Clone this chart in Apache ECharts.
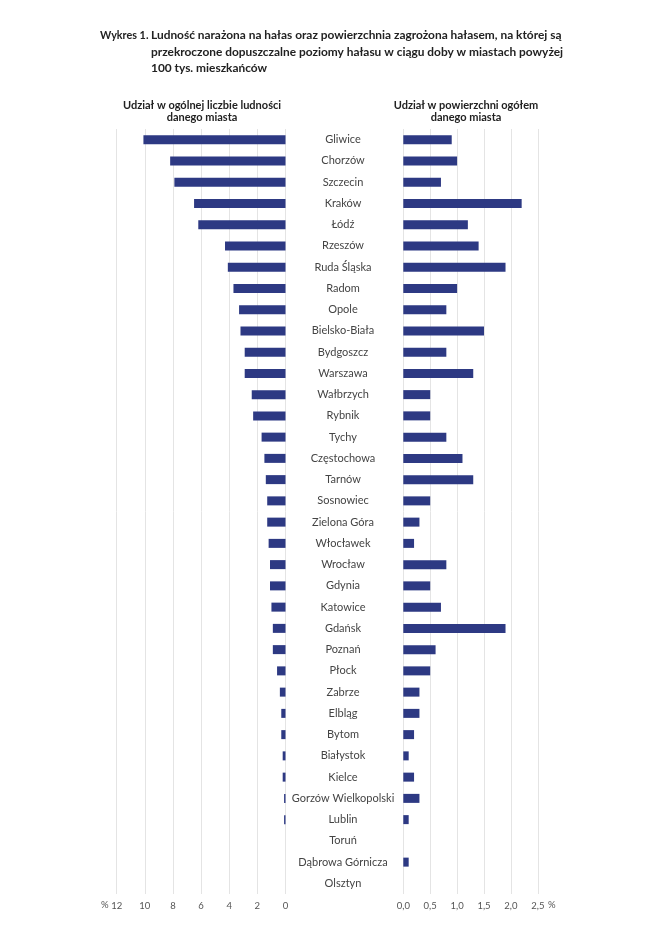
<!DOCTYPE html>
<html>
<head>
<meta charset="utf-8">
<script src="https://cdn.jsdelivr.net/npm/echarts@6/dist/echarts.min.js"></script>
<style>
html,body{margin:0;padding:0;background:#fff;}
#main{width:664px;height:939px;}
</style>
</head>
<body>
<div id="main"></div>
<script>
var cities = ['Gliwice','Chorzów','Szczecin','Kraków','Łódź','Rzeszów','Ruda Śląska','Radom','Opole','Bielsko-Biała','Bydgoszcz','Warszawa','Wałbrzych','Rybnik','Tychy','Częstochowa','Tarnów','Sosnowiec','Zielona Góra','Włocławek','Wrocław','Gdynia','Katowice','Gdańsk','Poznań','Płock','Zabrze','Elbląg','Bytom','Białystok','Kielce','Gorzów Wielkopolski','Lublin','Toruń','Dąbrowa Górnicza','Olsztyn'];
var populationShare = [10.1,8.2,7.9,6.5,6.2,4.3,4.1,3.7,3.3,3.2,2.9,2.9,2.4,2.3,1.7,1.5,1.4,1.3,1.3,1.2,1.1,1.1,1.0,0.9,0.9,0.6,0.4,0.3,0.3,0.2,0.2,0.1,0.1,0,0,0];
var areaShare = [0.9,1.0,0.7,2.2,1.2,1.4,1.9,1.0,0.8,1.5,0.8,1.3,0.5,0.5,0.8,1.1,1.3,0.5,0.3,0.2,0.8,0.5,0.7,1.9,0.6,0.5,0.3,0.3,0.2,0.1,0.2,0.3,0.1,0,0.1,0];
var leftTicks = [0,2,4,6,8,10,12];
var rightTicks = [0,0.5,1.0,1.5,2.0,2.5];
var titleLine1 = 'Wykres 1.';
var titleRest = 'Ludność narażona na hałas oraz powierzchnia zagrożona hałasem, na której są\nprzekroczone dopuszczalne poziomy hałasu w ciągu doby w miastach powyżej\n100 tys. mieszkańców';
var leftHeader = 'Udział w ogólnej liczbie ludności\ndanego miasta';
var rightHeader = 'Udział w powierzchni ogółem\ndanego miasta';

var BAR = '#2d3983';
var GRID = '#e4e4e4';
var FONT = 'Lato';

var chart = echarts.init(document.getElementById('main'));
var gridTop = 129, gridH = 765;
chart.setOption({
  backgroundColor: '#fff',
  animation: false,
  textStyle: {fontFamily: FONT},
  title: [
    {text: titleLine1, left: 100, top: 27.5, padding: 0, textStyle: {fontFamily: FONT, fontSize: 10.8, fontWeight: 'bold', color: '#222', lineHeight: 16.3}},
    {text: titleRest, left: 151, top: 27.5, padding: 0, textStyle: {fontFamily: FONT, fontSize: 11.9, fontWeight: 'bold', color: '#222', lineHeight: 16.3}},
    {text: leftHeader, left: 202, top: 100, padding: 0, textAlign: 'center', textStyle: {fontFamily: FONT, fontSize: 11, fontWeight: 'bold', color: '#222', lineHeight: 11.8, align: 'center'}},
    {text: rightHeader, left: 466, top: 100, padding: 0, textAlign: 'center', textStyle: {fontFamily: FONT, fontSize: 11, fontWeight: 'bold', color: '#222', lineHeight: 11.8, align: 'center'}}
  ],
  grid: [
    {left: 116.7, top: gridTop, width: 168.8, height: gridH},
    {left: 403.3, top: gridTop, width: 134.5, height: gridH}
  ],
  xAxis: [
    {gridIndex: 0, type: 'value', inverse: true, min: leftTicks[0], max: leftTicks[leftTicks.length-1], interval: 2,
     axisLine: {show: false}, axisTick: {show: false},
     splitLine: {show: true, lineStyle: {color: GRID, width: 1}},
     axisLabel: {margin: 7, fontSize: 9.5, color: '#555', fontFamily: FONT}},
    {gridIndex: 1, type: 'value', min: rightTicks[0], max: rightTicks[rightTicks.length-1], interval: 0.5,
     axisLine: {show: false}, axisTick: {show: false},
     splitLine: {show: true, lineStyle: {color: GRID, width: 1}},
     axisLabel: {margin: 7, fontSize: 9.5, color: '#555', fontFamily: FONT,
       formatter: function(v){ return v.toFixed(1).replace('.', ','); }}}
  ],
  yAxis: [
    {gridIndex: 0, type: 'category', data: cities, inverse: true, position: 'right',
     axisLine: {show: false}, axisTick: {show: false},
     axisLabel: {margin: 57.5, align: 'center', fontSize: 11, color: '#444', fontFamily: FONT, interval: 0}},
    {gridIndex: 1, type: 'category', data: cities, inverse: true,
     axisLine: {show: false}, axisTick: {show: false}, axisLabel: {show: false}}
  ],
  graphic: [
    {type: 'text', left: 101, top: 900, style: {text: '%', fontSize: 9.5, fill: '#555', fontFamily: FONT}},
    {type: 'text', left: 548, top: 900, style: {text: '%', fontSize: 9.5, fill: '#555', fontFamily: FONT}}
  ],
  series: [
    {type: 'bar', xAxisIndex: 0, yAxisIndex: 0, data: populationShare, barWidth: 9, itemStyle: {color: BAR}, silent: true},
    {type: 'bar', xAxisIndex: 1, yAxisIndex: 1, data: areaShare, barWidth: 9, itemStyle: {color: BAR}, silent: true}
  ]
});
</script>
</body>
</html>
